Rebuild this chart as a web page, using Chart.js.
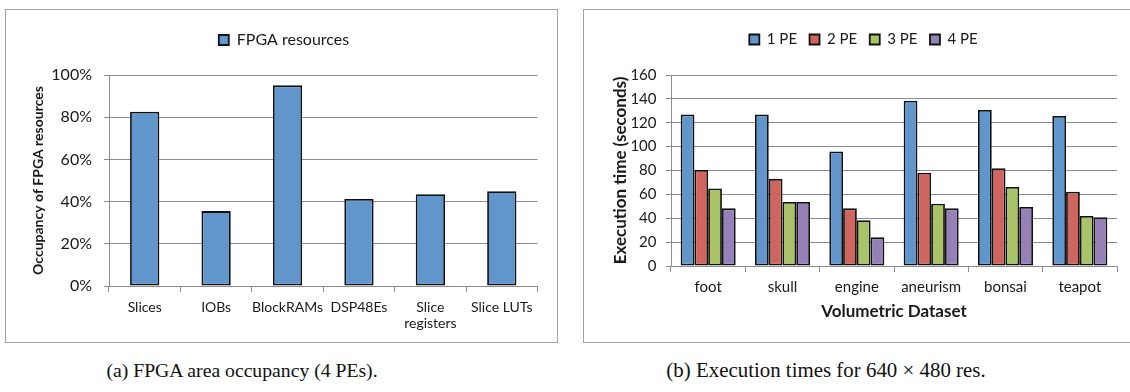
<!DOCTYPE html>
<html>
<head>
<meta charset="utf-8">
<script src="https://cdn.jsdelivr.net/npm/chart.js@4.4.1/dist/chart.umd.min.js"></script>
<style>
  html, body { margin: 0; padding: 0; background: #fff; overflow: hidden; width: 1130px; height: 392px; }
  .frame { position: absolute; top: 9px; height: 334px; box-sizing: border-box; border: 1.5px solid #a3a3a3; background: #fff; }
  #frameA { left: 5px; width: 553px; }
  #frameB { left: 583px; width: 560px; }
  canvas { position: absolute; top: 9px; }
  #occupancy { left: 5px; }
  #exectime { left: 583px; }
  .caption { position: absolute; top: 356px; font-family: "Liberation Serif", serif; color: #111; white-space: nowrap; transform: translateX(-50%); line-height: 28px; }
</style>
</head>
<body>
<div class="frame" id="frameA"></div>
<div class="frame" id="frameB"></div>
<canvas id="occupancy" width="553" height="334"></canvas>
<canvas id="exectime" width="552" height="334"></canvas>
<div class="caption" style="left:242px; font-size:19.7px">(a) FPGA area occupancy (4 PEs).</div>
<div class="caption" style="left:826px; font-size:20.9px">(b) Execution times for 640 × 480 res.</div>

<script>
// (a) FPGA resource occupancy, percent of device used with 4 PEs
const resourceNames = ['Slices', 'IOBs', 'BlockRAMs', 'DSP48Es', ['Slice', 'registers'], 'Slice LUTs'];
const resourceUsage = [82.6, 35.5, 95.1, 41.2, 43.5, 44.9];

// (b) execution time in seconds per volumetric dataset
const volumeNames = ['foot', 'skull', 'engine', 'aneurism', 'bonsai', 'teapot'];
const time1PE = [127, 127, 96, 138.5, 130.7, 125.7];
const time2PE = [80.5, 73, 48.3, 78.2, 81.8, 62.3];
const time3PE = [65, 53.6, 38.3, 52.2, 66.2, 41.9];
const time4PE = [48.3, 53.6, 24, 48.3, 49.4, 40.8];
const peLabels = ['1 PE', '2 PE', '3 PE', '4 PE'];

const FONT = 'Lato, "Open Sans", sans-serif';
const GRID = '#8c8c8c';
const EDGE = '#111111';
const COLORS = ['#6096cb', '#cf655e', '#a8c368', '#9580b7'];

Chart.defaults.font.family = FONT;
Chart.defaults.color = '#1a1a1a';
Chart.defaults.animation = false;

function yScale(opt) {
  return {
    min: 0, max: opt.max,
    ticks: { stepSize: opt.step, padding: opt.tickPad, font: { size: opt.tickSize }, callback: opt.fmt },
    grid: { color: GRID, lineWidth: 1, tickLength: 5, drawTicks: true },
    border: { color: GRID, width: 1 },
    title: { display: true, text: opt.title, font: { size: opt.titleSize, weight: 'bold' }, padding: { top: opt.titlePad, bottom: 0 } },
    // fixed axis width; paddingTop pins the top of the plot area
    afterFit: s => { s.width = opt.width; s.paddingTop = opt.top; }
  };
}

function xScale(opt) {
  const cfg = {
    ticks: { padding: opt.tickPad, font: { size: opt.tickSize, lineHeight: 1.15 }, maxRotation: 0, autoSkip: false },
    grid: { color: GRID, lineWidth: 1, drawOnChartArea: false, drawTicks: true, tickLength: 6, offset: true },
    border: { color: GRID, width: 1 },
    afterFit: s => { s.height = opt.height; s.paddingLeft = 0; s.paddingRight = 0; }
  };
  if (opt.title) {
    cfg.title = { display: true, text: opt.title, font: { size: 17, weight: 'bold' }, padding: { top: 0, bottom: opt.titlePad } };
  }
  return cfg;
}

function legendOpts(size, pad) {
  return {
    display: true, position: 'top',
    labels: { boxWidth: 10, boxHeight: 10, padding: pad, font: { size: size }, color: '#1a1a1a' }
  };
}

// empty title below the legend, used only as vertical spacing
function spacer(h) {
  return { display: true, text: '', weight: 500, position: 'top', padding: 0, font: { size: h / 1.2 } };
}

function barStyle(color) {
  return {
    backgroundColor: color,
    borderColor: EDGE,
    borderWidth: 1.8,
    borderSkipped: false,
    barPercentage: 1
  };
}

new Chart(document.getElementById('occupancy'), {
  type: 'bar',
  data: {
    labels: resourceNames,
    datasets: [Object.assign({ label: 'FPGA resources', data: resourceUsage, categoryPercentage: 0.41 }, barStyle(COLORS[0]))]
  },
  options: {
    responsive: false,
    layout: { padding: { left: 25.5, right: 20.5, top: 10, bottom: 0 } },
    plugins: { legend: legendOpts(16, 12), title: spacer(17), tooltip: { enabled: false } },
    scales: {
      x: xScale({ height: 57, tickPad: 7.5, tickSize: 14 }),
      y: yScale({ max: 100, step: 20, fmt: v => v + '%', width: 78.5, top: 66, tickPad: 12, tickSize: 16,
                  title: 'Occupancy of FPGA resources', titleSize: 14, titlePad: 0 })
    }
  }
});

new Chart(document.getElementById('exectime'), {
  type: 'bar',
  data: {
    labels: volumeNames,
    datasets: [time1PE, time2PE, time3PE, time4PE].map((vals, i) =>
      Object.assign({ label: peLabels[i], data: vals, categoryPercentage: 0.74 }, barStyle(COLORS[i])))
  },
  options: {
    responsive: false,
    layout: { padding: { left: 27, right: 18, top: 10, bottom: 0 } },
    plugins: { legend: legendOpts(15, 12.5), title: spacer(18), tooltip: { enabled: false } },
    scales: {
      x: xScale({ height: 77, tickPad: 6.5, tickSize: 15, title: 'Volumetric Dataset', titlePad: 21 }),
      y: yScale({ max: 160, step: 20, fmt: v => v, width: 61, top: 66, tickPad: 9.5, tickSize: 15,
                  title: 'Execution time (seconds)', titleSize: 17, titlePad: 0 })
    }
  }
});
</script>
</body>
</html>
